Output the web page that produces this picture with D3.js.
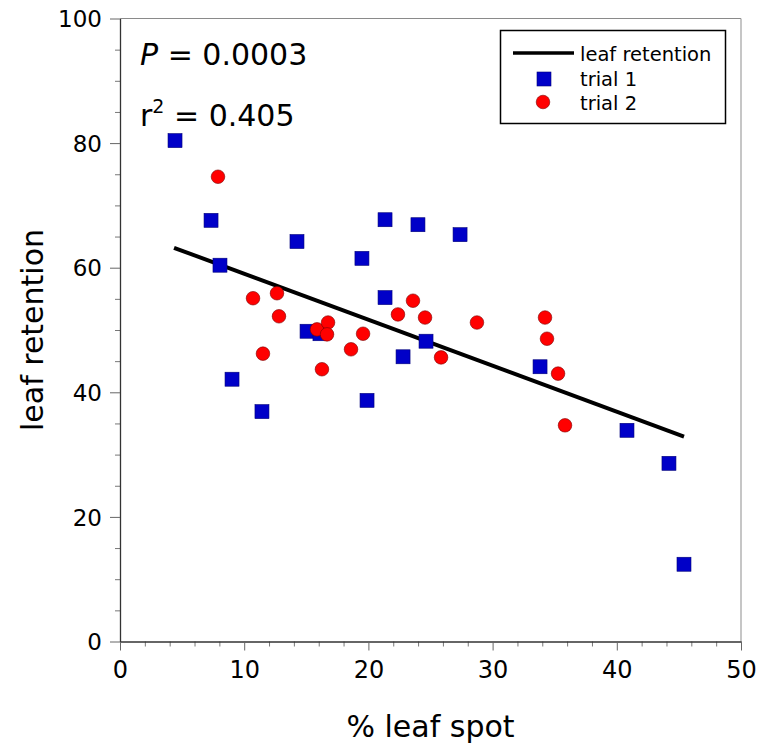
<!DOCTYPE html>
<html>
<head>
<meta charset="utf-8">
<script src="https://cdn.jsdelivr.net/npm/d3@7"></script>
<style>
  html, body { margin: 0; padding: 0; background: #fff; }
  svg { display: block; }
  text { font-family: "DejaVu Sans", Verdana, sans-serif; fill: #000; }
</style>
</head>
<body>
<div id="chart"></div>
<script>
// ---- data ----
const trial1X = [4.43, 7.33, 8.05, 9.02, 11.43, 14.25, 15.06, 16.1, 19.48, 19.89, 21.34, 21.34, 22.79, 23.99, 24.64, 27.38, 33.82, 40.82, 44.2, 45.41];
const trial1Y = [80.4, 67.6, 60.4, 42.1, 36.9, 64.2, 49.8, 49.4, 61.5, 38.7, 67.7, 55.2, 45.7, 66.9, 48.2, 65.3, 44.1, 33.9, 28.6, 12.4];
const trial2X = [7.89, 10.71, 12.64, 12.80, 11.51, 15.86, 16.75, 16.67, 16.26, 18.60, 19.57, 22.38, 23.59, 24.56, 25.85, 28.74, 34.22, 34.38, 35.27, 35.83];
const trial2Y = [74.6, 55.1, 55.9, 52.2, 46.2, 50.1, 51.2, 49.3, 43.7, 46.9, 49.4, 52.5, 54.7, 52.0, 45.6, 51.2, 52.0, 48.6, 43.0, 34.7];
const fitX = [4.35, 45.41];
const fitY = [63.2, 32.9];
const xTicks = [0, 10, 20, 30, 40, 50];
const yTicks = [0, 20, 40, 60, 80, 100];
const xMinorTicks = d3.range(0, 51, 2);
const yMinorTicks = d3.range(0, 101, 5);
const seriesNames = ["leaf retention", "trial 1", "trial 2"];
const statP = "0.0003";
const statR2 = "0.405";
const xTitle = "% leaf spot";
const yTitle = "leaf retention";

// ---- layout ----
const W = 759, H = 746;
const mLeft = 120, mRight = 741, mTop = 18.5, mBottom = 641.5;

const svg = d3.select("#chart").append("svg").attr("width", W).attr("height", H);

const x = d3.scaleLinear().domain([0, 50]).range([mLeft, mRight]);
const y = d3.scaleLinear().domain([0, 100]).range([mBottom, mTop]);

// frame (top & right lighter)
svg.append("line").attr("x1", mLeft).attr("x2", mRight).attr("y1", mTop).attr("y2", mTop)
  .attr("stroke", "#8a8a8a").attr("stroke-width", 1.2);
svg.append("line").attr("x1", mRight).attr("x2", mRight).attr("y1", mTop).attr("y2", mBottom)
  .attr("stroke", "#a0a0a0").attr("stroke-width", 1.2);

// minor ticks
const gx = svg.append("g").attr("transform", `translate(0,${mBottom})`);
gx.call(d3.axisBottom(x).tickValues(xMinorTicks.filter(v => v % 10 !== 0)).tickSize(5).tickFormat(""))
  .call(g => g.select(".domain").remove())
  .call(g => g.selectAll("line").attr("stroke", "#777"));
const gxMaj = svg.append("g").attr("transform", `translate(0,${mBottom})`);
gxMaj.call(d3.axisBottom(x).tickValues(xTicks).tickSize(9).tickPadding(8).tickSizeOuter(0))
  .call(g => g.select(".domain").attr("stroke", "#333").attr("stroke-width", 1.3))
  .call(g => g.selectAll("line").attr("stroke", "#666"))
  .call(g => g.selectAll("text").attr("font-size", 24).attr("font-family", "DejaVu Sans")
      .attr("fill", "#111").attr("dy", null).attr("y", 36));

const gy = svg.append("g").attr("transform", `translate(${mLeft},0)`);
gy.call(d3.axisLeft(y).tickValues(yMinorTicks.filter(v => v % 20 !== 0)).tickSize(5).tickFormat(""))
  .call(g => g.select(".domain").remove())
  .call(g => g.selectAll("line").attr("stroke", "#777"));
const gyMaj = svg.append("g").attr("transform", `translate(${mLeft},0)`);
gyMaj.call(d3.axisLeft(y).tickValues(yTicks).tickSize(10).tickPadding(8).tickSizeOuter(0))
  .call(g => g.select(".domain").attr("stroke", "#333").attr("stroke-width", 1.3))
  .call(g => g.selectAll("line").attr("stroke", "#666"))
  .call(g => g.selectAll("text").attr("font-size", 23).attr("font-family", "DejaVu Sans")
      .attr("fill", "#111").attr("dy", "0.36em"));

// axis titles
svg.append("text").attr("x", (mLeft + mRight) / 2).attr("y", 737)
  .attr("text-anchor", "middle").attr("font-size", 30).text(xTitle);
svg.append("text").attr("transform", `translate(43,${(mTop + mBottom) / 2}) rotate(-90)`)
  .attr("text-anchor", "middle").attr("font-size", 30).text(yTitle);

// fit line
svg.append("path")
  .datum(fitX.map((d, i) => [d, fitY[i]]))
  .attr("d", d3.line().x(d => x(d[0])).y(d => y(d[1])))
  .attr("stroke", "#000").attr("stroke-width", 4).attr("fill", "none");

// trial 1 squares
const sq = 14;
svg.append("g").selectAll("rect")
  .data(trial1X.map((d, i) => [d, trial1Y[i]]))
  .join("rect")
  .attr("x", d => x(d[0]) - sq / 2).attr("y", d => y(d[1]) - sq / 2)
  .attr("width", sq).attr("height", sq)
  .attr("fill", "#0000c8").attr("stroke", "#00007a").attr("stroke-width", 0.6);

// trial 2 circles
svg.append("g").selectAll("circle")
  .data(trial2X.map((d, i) => [d, trial2Y[i]]))
  .join("circle")
  .attr("cx", d => x(d[0])).attr("cy", d => y(d[1])).attr("r", 6.8)
  .attr("fill", "#ff0000").attr("stroke", "#7a0000").attr("stroke-width", 0.6);

// stats annotation
const pText = svg.append("text").attr("x", 140).attr("y", 65).attr("font-size", 30);
pText.append("tspan").attr("font-style", "italic").text("P");
pText.append("tspan").text(" = " + statP);
const rText = svg.append("text").attr("x", 140).attr("y", 126).attr("font-size", 30);
rText.append("tspan").text("r");
rText.append("tspan").attr("font-size", 19).attr("dy", -13).text("2");
rText.append("tspan").attr("dy", 13).text(" = " + statR2);

// legend
const lg = svg.append("g");
lg.append("rect").attr("x", 500.5).attr("y", 30.5).attr("width", 225).attr("height", 93)
  .attr("fill", "#fff").attr("stroke", "#000").attr("stroke-width", 1.5);
lg.append("line").attr("x1", 513).attr("x2", 574).attr("y1", 53).attr("y2", 53)
  .attr("stroke", "#000").attr("stroke-width", 3.5);
lg.append("rect").attr("x", 537).attr("y", 72).attr("width", sq).attr("height", sq)
  .attr("fill", "#0000c8").attr("stroke", "#00007a").attr("stroke-width", 0.6);
lg.append("circle").attr("cx", 543).attr("cy", 102).attr("r", 6.8)
  .attr("fill", "#ff0000").attr("stroke", "#7a0000").attr("stroke-width", 0.6);
const lgY = [61, 86, 110];
seriesNames.forEach((n, i) => {
  lg.append("text").attr("x", 580).attr("y", lgY[i]).attr("font-size", 19.5).text(n);
});
</script>
</body>
</html>
